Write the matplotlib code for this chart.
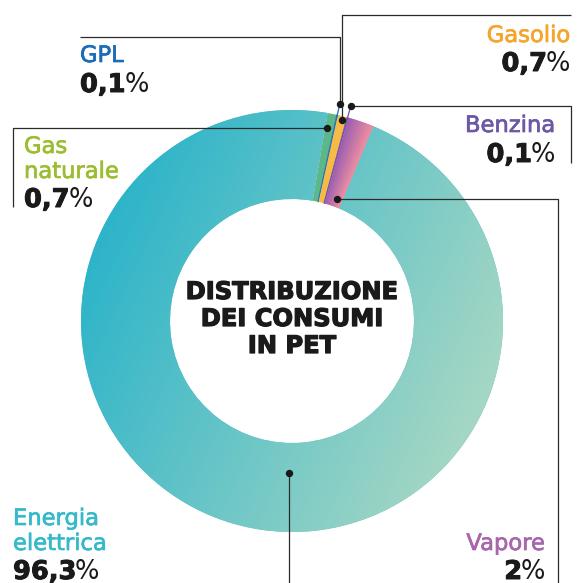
import numpy as np
import matplotlib.pyplot as plt
import matplotlib.patheffects as pe
from matplotlib.colors import to_rgb

# shares of consumption by energy source (%)
categories = ['Gas\nnaturale', 'GPL', 'Gasolio', 'Benzina', 'Vapore', 'Energia\nelettrica']
shares = [0.7, 0.1, 0.7, 0.1, 2.0, 96.3]
share_labels = ['0,7', '0,1', '0,7', '0,1', '2', '96,3']
wedge_colors = ['#5cb887', '#1f6fc0', '#f7bb45', '#6d4ea5', '#c376a8', '#5cc0c8']
label_colors = ['#9cbd31', '#1a6bb8', '#f5a52a', '#6c58a6', '#a866ad', '#36b9cb']
title_lines = ['DISTRIBUZIONE', 'DEI CONSUMI', 'IN PET']

W = 583
cx, cy = 292, 321
R, r_in = 211, 122
LINE = '#2b2b2b'
INK = '#1a1a1a'
FONT = 'DejaVu Sans'

fig = plt.figure(figsize=(5.83, 5.83), dpi=100)
ax = fig.add_axes([0, 0, 1, 1])
wedges, _ = ax.pie(shares, colors=wedge_colors, radius=R, center=(cx, cy),
                   startangle=-80.3, counterclock=True,
                   wedgeprops=dict(width=R - r_in, linewidth=0))
# the two 0,1% slivers get an edge so they stay visible
for i in (1, 3):
    wedges[i].set_edgecolor(wedge_colors[i])
    wedges[i].set_linewidth(0.5)


def gradient_fill(wedge, color_fn):
    x0, x1, y0, y1 = cx - R, cx + R, cy - R, cy + R
    X, Y = np.meshgrid(np.linspace(x0, x1, 700), np.linspace(y0, y1, 700))
    img = color_fn(X, Y)
    im = ax.imshow(img, extent=(x0, x1, y1, y0), origin='upper',
                   interpolation='bilinear', zorder=wedge.get_zorder())
    im.set_clip_path(wedge)


def blend(c0, c1, t):
    c0, c1 = np.array(to_rgb(c0)), np.array(to_rgb(c1))
    t = np.clip(t, 0, 1)[..., None]
    return c0 * (1 - t) + c1 * t


def elettrica_colors(X, Y):
    a = np.radians(25)
    p = (X - cx) * np.cos(a) + (Y - cy) * np.sin(a)
    t = (p + R) / (2 * R)
    return blend('#2db4ca', '#a6d7c4', t)


vap = wedges[4]
def vapore_colors(X, Y):
    th = np.degrees(np.arctan2(Y - cy, X - cx))
    t1 = (vap.theta1 + 180) % 360 - 180
    t2 = t1 + (vap.theta2 - vap.theta1)
    return blend('#9a5fb1', '#ef8fa0', (th - t1) / (t2 - t1))


gradient_fill(wedges[5], elettrica_colors)
gradient_fill(vap, vapore_colors)

ax.set_xlim(0, W)
ax.set_ylim(W, 0)
ax.axis('off')


def on_ring(i, rad):
    w = wedges[i]
    th = np.radians((w.theta1 + w.theta2) / 2)
    return cx + rad * np.cos(th), cy + rad * np.sin(th)


# callout leaders: dot position, then the corners of the polyline
gpl_dot = on_ring(1, 222)
benz_dot = on_ring(3, 223)
gaso_dot = on_ring(2, 207)
leaders = [
    [(327, 128), (13, 128), (13, 207)],
    [gpl_dot, (gpl_dot[0], 37), (80, 37)],
    [gaso_dot, (gaso_dot[0], 15), (571, 15)],
    [benz_dot, (571, benz_dot[1]), (571, 163)],
    [(337, 199), (558, 199), (558, 583)],
    [(289, 473), (289, 583)],
]
for pts in leaders:
    xs, ys = zip(*pts)
    ax.plot(xs, ys, color=LINE, lw=0.9, zorder=5, solid_capstyle='butt')
    ax.plot(xs[0], ys[0], 'o', color=INK, ms=4.3, zorder=6)

# colored ticks continuing the slivers out to their dots
for i, dot in ((1, gpl_dot), (3, benz_dot)):
    sx, sy = on_ring(i, R - 2)
    ax.plot([sx, dot[0]], [sy, dot[1]], color=wedge_colors[i], lw=0.9, zorder=4)


def thick(color, w):
    return [pe.withStroke(linewidth=w, foreground=color)]


# text labels
label_pos = [(24, 153, 207, 'left'), (80, 62, 92, 'left'), (570, 42, 71, 'right'),
             (555, 132, 162, 'right'), (545, 550, 579, 'right'), (13, 525, 579, 'left')]
renderer = fig.canvas.get_renderer()
inv = ax.transData.inverted()

for name, num, col, (x, y, ny, ha) in zip(categories, share_labels, label_colors, label_pos):
    for k, line in enumerate(name.split('\n')):
        ax.text(x, y + 25 * k, line, ha=ha, va='baseline', color=col,
                fontsize=16.3, family=FONT, path_effects=thick(col, 0.5))
    kw = dict(fontsize=18.5, va='baseline', color=INK, family=FONT)
    if ha == 'left':
        t = ax.text(x, ny, num, ha='left', fontweight='bold',
                    path_effects=thick(INK, 0.7), **kw)
        bb = t.get_window_extent(renderer)
        xe = inv.transform((bb.x1, bb.y0))[0]
        ax.text(xe - 1.5, ny, '%', ha='left', **kw)
    else:
        t = ax.text(x, ny, '%', ha='right', **kw)
        bb = t.get_window_extent(renderer)
        xs = inv.transform((bb.x0, bb.y0))[0]
        ax.text(xs + 1.5, ny, num, ha='right', fontweight='bold',
                path_effects=thick(INK, 0.7), **kw)

for k, line in enumerate(title_lines):
    ax.text(cx, 299 + 27 * k, line, ha='center', va='baseline', color=INK,
            fontsize=17.4, family=FONT, fontweight='bold',
            path_effects=thick(INK, 0.9))

fig.savefig('out.png', dpi=100)
